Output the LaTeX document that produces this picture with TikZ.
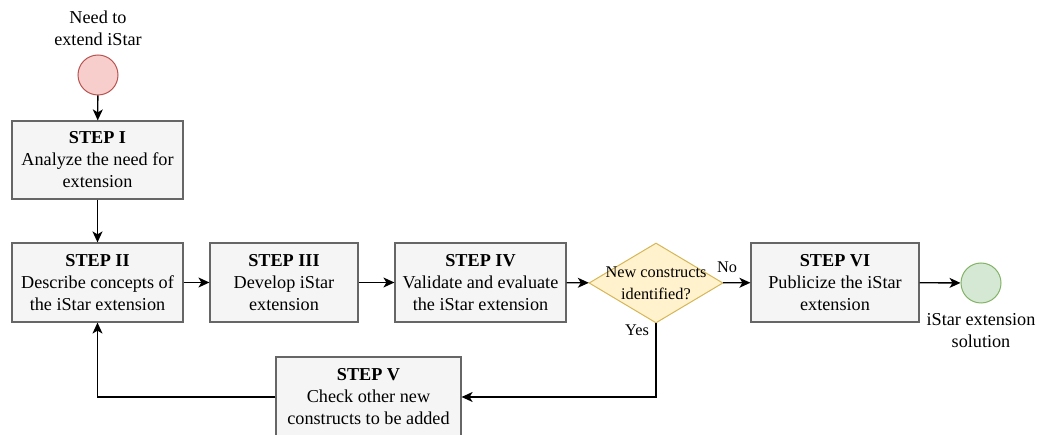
\documentclass[tikz,border=0pt]{standalone}
\usepackage{fontspec}
\setmainfont{Liberation Serif}
\usetikzlibrary{arrows.meta,shapes.geometric}
\definecolor{boxfill}{HTML}{F5F5F5}
\definecolor{boxline}{HTML}{666666}
\definecolor{startfill}{HTML}{F8CECC}
\definecolor{startline}{HTML}{B85450}
\definecolor{endfill}{HTML}{D5E8D4}
\definecolor{endline}{HTML}{82B366}
\definecolor{decfill}{HTML}{FFF2CC}
\definecolor{decline}{HTML}{D6B656}
\tikzset{
  every node/.style={font=\fontsize{18.2}{22}\selectfont},
  stepbox/.style={draw=boxline, fill=boxfill, line width=1.2pt, align=center,
    inner sep=0pt, minimum height=79},
  startev/.style={circle, draw=startline, fill=startfill, line width=1pt, minimum size=40, inner sep=0pt},
  endev/.style={circle, draw=endline, fill=endfill, line width=1pt, minimum size=40, inner sep=0pt},
  decision/.style={diamond, draw=decline, fill=decfill, line width=1pt, minimum width=134,
    minimum height=80, inner sep=0pt},
  flow/.style={line width=1.3pt, -{Stealth[length=11pt,width=10pt,inset=3pt]}},
  lbl/.style={align=center, inner sep=0pt}
}
\begin{document}
\begin{tikzpicture}[x=1pt,y=-1pt]
  \clip (0,0) rectangle (1037,435);
  \useasboundingbox (0,0) rectangle (1037,435);

  % start and end events
  \node[startev] (start) at (98,75) {};
  \node[lbl] (startlbl) at (98,28) {Need to\\extend iStar};
  \node[endev] (finish) at (981,283) {};
  \node[lbl] (finishlbl) at (981,331) {iStar extension\\solution};

  % process steps
  \node[stepbox, minimum width=171, minimum height=78] (s1) at (97.5,160)
    {\textbf{STEP I}\\Analyze the need for\\extension};
  \node[stepbox, minimum width=171] (s2) at (97.5,282.5)
    {\textbf{STEP II}\\Describe concepts of\\the iStar extension};
  \node[stepbox, minimum width=148] (s3) at (284,282.5)
    {\textbf{STEP III}\\Develop iStar\\extension};
  \node[stepbox, minimum width=171] (s4) at (480.5,282.5)
    {\textbf{STEP IV}\\Validate and evaluate\\the iStar extension};
  \node[stepbox, minimum width=168] (s6) at (835,282.5)
    {\textbf{STEP VI}\\Publicize the iStar\\extension};
  \node[stepbox, minimum width=185, minimum height=80] (s5) at (368.5,397)
    {\textbf{STEP V}\\Check other new\\constructs to be added};

  % decision
  \node[decision] (dec) at (656,283) {};
  \node[lbl, font=\fontsize{16.3}{22}\selectfont] (dectext) at (dec.center) {New constructs\\identified?};

  % connectors
  \draw[flow] (start) -- (s1);
  \draw[flow] (s1) -- (s2);
  \draw[flow] (s2) -- (s3);
  \draw[flow] (s3) -- (s4);
  \draw[flow] (s4) -- (dec);
  \draw[flow] (dec) -- (s6);
  \node[lbl, font=\fontsize{16.3}{22}\selectfont] (nolbl) at (727,267) {No};
  \draw[flow] (s6) -- (finish);
  \draw[flow] (dec.south) |- (s5.east);
  \node[lbl, font=\fontsize{16.3}{22}\selectfont] (yeslbl) at (637,330) {Yes};
  \draw[flow] (s5.west) -| (s2.south);
\end{tikzpicture}
\end{document}
